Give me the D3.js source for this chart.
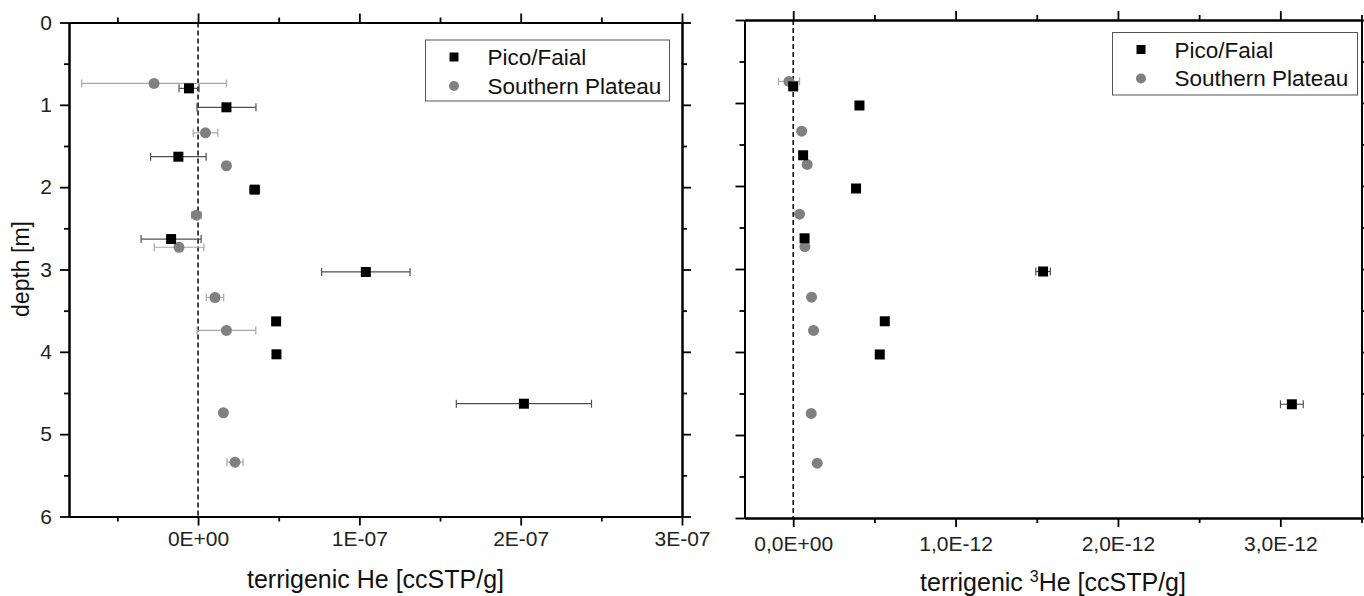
<!DOCTYPE html>
<html>
<head>
<meta charset="utf-8">
<script src="https://cdn.jsdelivr.net/npm/d3@7"></script>
<style>
  body { margin: 0; background: #fff; }
  svg text { font-family: "Liberation Sans", Arial, Helvetica, sans-serif; }
</style>
</head>
<body>
<div id="chart"></div>
<script>
//Data
var depth_pf = [0.80, 1.03, 1.63, 2.03, 2.63, 3.03, 3.63, 4.03, 4.63];
var he_pf = [-0.056e-7, 0.176e-7, -0.122e-7, 0.351e-7, -0.167e-7, 1.04e-7, 0.484e-7, 0.486e-7, 2.02e-7];
var he_err_pf = [0.062e-7, 0.183e-7, 0.172e-7, 0.03e-7, 0.186e-7, 0.274e-7, 0.01e-7, 0.01e-7, 0.419e-7];

var depth_sp = [0.74, 1.34, 1.74, 2.34, 2.73, 3.34, 3.74, 4.74, 5.34];
var he_sp = [-0.273e-7, 0.046e-7, 0.176e-7, -0.01e-7, -0.118e-7, 0.105e-7, 0.176e-7, 0.157e-7, 0.229e-7];
var he_err_sp = [0.449e-7, 0.076e-7, 0, 0.03e-7, 0.154e-7, 0.054e-7, 0.182e-7, 0, 0.05e-7];

var he3_pf = [0.0, 0.408e-12, 0.061e-12, 0.387e-12, 0.07e-12, 1.539e-12, 0.564e-12, 0.533e-12, 3.071e-12];
var he3_err_pf = [0.02e-12, 0, 0, 0, 0, 0.045e-12, 0, 0, 0.07e-12];
var he3_sp = [-0.026e-12, 0.052e-12, 0.086e-12, 0.039e-12, 0.072e-12, 0.113e-12, 0.125e-12, 0.111e-12, 0.148e-12];
var he3_err_sp = [0.065e-12, 0, 0, 0, 0, 0, 0, 0, 0];

var series_names = ['Pico/Faial', 'Southern Plateau'];

var depth_ticks = [0, 1, 2, 3, 4, 5, 6];
var depth_minor = [0.5, 1.5, 2.5, 3.5, 4.5, 5.5];

var he_ticks = [0, 1e-7, 2e-7, 3e-7];
var he_tick_labels = ['0E+00', '1E-07', '2E-07', '3E-07'];
var he_minor = [-0.5e-7, 0.5e-7, 1.5e-7, 2.5e-7];

var he3_ticks = [0, 1e-12, 2e-12, 3e-12];
var he3_tick_labels = ['0,0E+00', '1,0E-12', '2,0E-12', '3,0E-12'];
var he3_minor = [0.5e-12, 1.5e-12, 2.5e-12, 3.5e-12];

var chart_width = 1364;
var chart_height = 596;
var font = '"Liberation Sans", Arial, Helvetica, sans-serif';

var svg = d3.select('#chart')
            .append('svg')
            .attr('width', chart_width)
            .attr('height', chart_height)
            .style('display', 'block');

var panels = [
    {
        left: 69, right: 682, top: 22.5, bottom: 516.5,
        domain: [-0.8e-7, 3e-7],
        ticks: he_ticks, labels: he_tick_labels, minor: he_minor,
        pf: he_pf, pf_err: he_err_pf, sp: he_sp, sp_err: he_err_sp,
        y_labels: true, label_pad: 6,
        legend: {x: 425.5, y: 40, w: 244, h: 61},
        title_y: 588
    },
    {
        left: 744.5, right: 1361.5, top: 20, bottom: 518,
        domain: [-0.3e-12, 3.5e-12],
        ticks: he3_ticks, labels: he3_tick_labels, minor: he3_minor,
        pf: he3_pf, pf_err: he3_err_pf, sp: he3_sp, sp_err: he3_err_sp,
        y_labels: false, label_pad: 9.5,
        legend: {x: 1112.5, y: 32.5, w: 245, h: 62.5},
        title_y: 591
    }
];

function styleAxis(g) {
    g.attr('font-family', font).attr('font-size', 21);
    g.select('.domain').attr('stroke', '#000').attr('stroke-width', 2);
    g.selectAll('.tick line').attr('stroke', '#000').attr('stroke-width', 1.8);
    g.selectAll('.tick text').attr('fill', '#222');
}

panels.forEach((p, i) => {
    var x_scale = d3.scaleLinear()
                    .domain(p.domain)
                    .range([p.left, p.right]);

    var y_scale = d3.scaleLinear()
                    .domain([0, 6])
                    .range([p.top, p.bottom]);

    var g = svg.append('g');

    //Minor ticks first, then major with labels
    var axes = [
        {fn: d3.axisBottom, scale: x_scale, pos: 'translate(0,' + p.bottom + ')', major: p.ticks, minor: p.minor, labels: true},
        {fn: d3.axisTop, scale: x_scale, pos: 'translate(0,' + p.top + ')', major: p.ticks, minor: p.minor, labels: false},
        {fn: d3.axisLeft, scale: y_scale, pos: 'translate(' + p.left + ',0)', major: depth_ticks, minor: depth_minor, labels: p.y_labels},
        {fn: d3.axisRight, scale: y_scale, pos: 'translate(' + p.right + ',0)', major: depth_ticks, minor: depth_minor, labels: false}
    ];

    axes.forEach((a) => {
        g.append('g')
            .attr('transform', a.pos)
            .call(a.fn(a.scale).tickValues(a.minor).tickSize(5).tickSizeOuter(0).tickFormat(''))
            .call(styleAxis);

        var major = a.fn(a.scale)
                    .tickValues(a.major)
                    .tickSize(9)
                    .tickSizeOuter(0);
        if (a.labels) {
            if (a.fn === d3.axisBottom) {
                major.tickFormat((d, j) => {
                    return p.labels[j];
                }).tickPadding(p.label_pad);
            } else {
                major.tickFormat(d3.format('d')).tickPadding(8);
            }
        } else {
            major.tickFormat('');
        }
        g.append('g')
            .attr('transform', a.pos)
            .call(major)
            .call(styleAxis);
    });

    //Dashed zero line
    g.append('line')
        .attr('x1', x_scale(0))
        .attr('x2', x_scale(0))
        .attr('y1', p.top)
        .attr('y2', p.bottom)
        .attr('stroke', '#000')
        .attr('stroke-width', 1.5)
        .attr('stroke-dasharray', '5,3');

    var pf = depth_pf.map((d, j) => {
        return {depth: d, v: p.pf[j], err: p.pf_err[j]};
    });
    var sp = depth_sp.map((d, j) => {
        return {depth: d, v: p.sp[j], err: p.sp_err[j]};
    });

    //Error bars
    function drawErrors(data, color) {
        var eb = g.append('g')
                .selectAll('g')
                .data(data.filter((d) => {
                    return d.err > 0;
                }))
                .enter()
                .append('g')
                .attr('stroke', color)
                .attr('stroke-width', 1.2);
        eb.append('line')
            .attr('x1', (d) => { return x_scale(d.v - d.err); })
            .attr('x2', (d) => { return x_scale(d.v + d.err); })
            .attr('y1', (d) => { return y_scale(d.depth); })
            .attr('y2', (d) => { return y_scale(d.depth); });
        [-1, 1].forEach((s) => {
            eb.append('line')
                .attr('x1', (d) => { return x_scale(d.v + s * d.err); })
                .attr('x2', (d) => { return x_scale(d.v + s * d.err); })
                .attr('y1', (d) => { return y_scale(d.depth) - 4; })
                .attr('y2', (d) => { return y_scale(d.depth) + 4; });
        });
    }
    drawErrors(sp, '#a8a8a8');
    drawErrors(pf, '#505050');

    //Southern Plateau circles
    g.append('g')
        .selectAll('circle')
        .data(sp)
        .enter()
        .append('circle')
        .attr('cx', (d) => { return x_scale(d.v); })
        .attr('cy', (d) => { return y_scale(d.depth); })
        .attr('r', 5.5)
        .attr('fill', '#808080');

    //Pico/Faial squares
    g.append('g')
        .selectAll('rect')
        .data(pf)
        .enter()
        .append('rect')
        .attr('x', (d) => { return x_scale(d.v) - 5; })
        .attr('y', (d) => { return y_scale(d.depth) - 5; })
        .attr('width', 10)
        .attr('height', 10)
        .attr('fill', '#000');

    //Legend
    var lg = g.append('g')
            .attr('transform', 'translate(' + p.legend.x + ',' + p.legend.y + ')');
    lg.append('rect')
        .attr('width', p.legend.w)
        .attr('height', p.legend.h)
        .attr('fill', '#fff')
        .attr('stroke', '#555')
        .attr('stroke-width', 1);
    lg.append('rect')
        .attr('x', 24)
        .attr('y', 12.5)
        .attr('width', 9)
        .attr('height', 9)
        .attr('fill', '#000');
    lg.append('circle')
        .attr('cx', 28.5)
        .attr('cy', 46)
        .attr('r', 5)
        .attr('fill', '#808080');
    lg.selectAll('text')
        .data(series_names)
        .enter()
        .append('text')
        .text((d) => { return d; })
        .attr('x', 62)
        .attr('y', (d, j) => { return 25 + j * 28.5; })
        .attr('font-family', font)
        .attr('font-size', 22.5)
        .attr('fill', '#111');

    //X title
    var title = g.append('text')
                .attr('x', (p.left + p.right) / 2)
                .attr('y', p.title_y)
                .attr('text-anchor', 'middle')
                .attr('font-family', font)
                .attr('font-size', 25)
                .attr('fill', '#111');
    if (i === 0) {
        title.text('terrigenic He [ccSTP/g]');
    } else {
        title.append('tspan').text('terrigenic ');
        title.append('tspan').text('3').attr('font-size', 16).attr('dy', -9);
        title.append('tspan').text('He [ccSTP/g]').attr('dy', 9);
    }
});

//Y title
svg.append('text')
    .attr('transform', 'translate(28.5,269) rotate(-90)')
    .attr('text-anchor', 'middle')
    .attr('font-family', font)
    .attr('font-size', 23)
    .attr('fill', '#111')
    .text('depth [m]');
</script>
</body>
</html>
